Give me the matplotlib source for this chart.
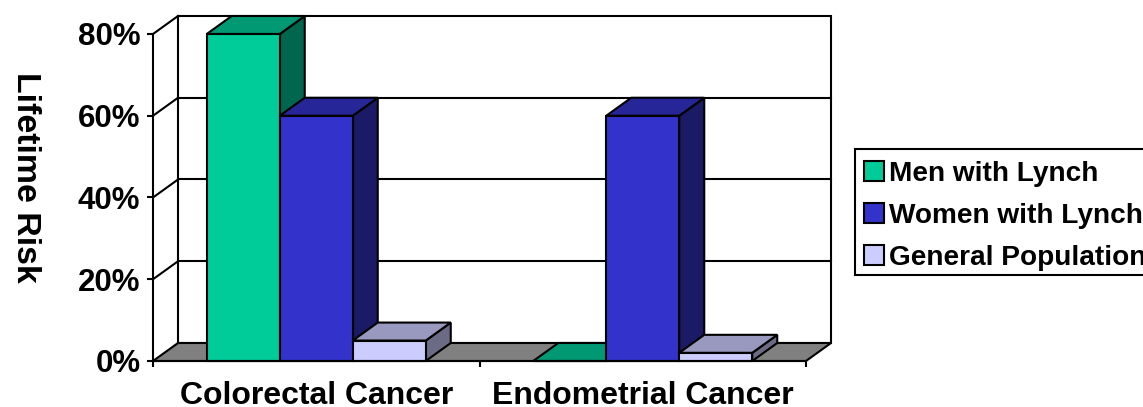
import matplotlib
matplotlib.use('Agg')
import matplotlib.pyplot as plt
from matplotlib.patches import Patch, Polygon, Rectangle

categories = ['Colorectal Cancer', 'Endometrial Cancer']
series_names = ['Men with Lynch', 'Women with Lynch', 'General Population']
men_with_lynch = [80, 0]
women_with_lynch = [60, 60]
general_population = [5, 2]
y_ticks = [0, 20, 40, 60, 80]
y_tick_labels = ['0%', '20%', '40%', '60%', '80%']

FRONT_COLOURS = ['#00CC99', '#3333CC', '#CCCCFF']
TOP_COLOURS = ['#009973', '#262699', '#9999BF']
SIDE_COLOURS = ['#00664D', '#1A1A66', '#6B6B85']
FLOOR_COLOUR = '#808080'
FONT = 'Liberation Sans'
LINE = 1.5

# 3d depth of the chart box, in data units
DX = 25 / 326.5
DY = 18 / 327 * 80
BAR_WIDTH = 73 / 326.5
GROUP_GAP = (1 - 3 * BAR_WIDTH) / 2


def Face(ax, points, colour, z):
    ax.add_patch(Polygon(points, closed=True, facecolor=colour, edgecolor='black',
                         linewidth=LINE, joinstyle='miter', clip_on=False, zorder=z))


def Box(ax, x, value, i, z):
    x2 = x + BAR_WIDTH
    Face(ax, [(x2, 0), (x2 + DX, DY), (x2 + DX, value + DY), (x2, value)], SIDE_COLOURS[i], z)
    Face(ax, [(x, value), (x + DX, value + DY), (x2 + DX, value + DY), (x2, value)], TOP_COLOURS[i], z)
    Face(ax, [(x, 0), (x2, 0), (x2, value), (x, value)], FRONT_COLOURS[i], z)


fig = plt.figure(figsize=(11.43, 4.07), dpi=100)
ax = fig.add_axes([153 / 1143, 46 / 407, 653 / 1143, 327 / 407])
ax.set_xlim(0, len(categories))
ax.set_ylim(0, 80)

for s in ('top', 'right'):
    ax.spines[s].set_visible(False)
for s in ('left', 'bottom'):
    ax.spines[s].set_linewidth(LINE)
    ax.spines[s].set_zorder(8)

# back wall and floor
n = len(categories)
Face(ax, [(DX, DY), (n + DX, DY), (n + DX, 80 + DY), (DX, 80 + DY)], 'white', 1)
for t in y_ticks[1:-1]:
    ax.plot([DX, n + DX], [t + DY, t + DY], color='black', lw=LINE, clip_on=False, zorder=2)
for t in y_ticks[1:]:
    ax.plot([0, DX], [t, t + DY], color='black', lw=LINE, clip_on=False, zorder=2)
Face(ax, [(0, 0), (DX, DY), (n + DX, DY), (n, 0)], FLOOR_COLOUR, 3)

z = 4
for c in range(n):
    for i, values in enumerate((men_with_lynch, women_with_lynch, general_population)):
        Box(ax, c + GROUP_GAP + i * BAR_WIDTH, values[c], i, z)
        z += 0.01

ax.set_yticks(y_ticks)
ax.set_yticklabels(y_tick_labels, fontfamily=FONT, fontweight='bold', fontsize=22.5)
ax.set_xticks(range(n + 1))
ax.set_xticklabels([])
ax.set_xticks([c + 0.5 for c in range(n)], minor=True)
ax.set_xticklabels(categories, minor=True, fontfamily=FONT, fontweight='bold', fontsize=23)
ax.tick_params(axis='both', which='major', length=4, width=LINE, pad=5)
ax.tick_params(axis='x', which='minor', length=0, pad=14.5)

fig.text(25 / 1143, 1 - 177 / 407, 'Lifetime Risk', rotation=-90, ha='center', va='center',
         fontfamily=FONT, fontweight='bold', fontsize=24.4)

# legend frame runs off the right edge, so it is drawn by hand
fig.add_artist(Rectangle((855 / 1143, 1 - 275 / 407), 320 / 1143, 126 / 407,
                         transform=fig.transFigure, facecolor='white', edgecolor='black',
                         linewidth=LINE, clip_on=True))
handles = [Patch(facecolor=FRONT_COLOURS[i], edgecolor='black', linewidth=LINE) for i in range(3)]
legend = fig.legend(handles, series_names, loc='upper left',
                    bbox_to_anchor=(864 / 1143, 1 - 161 / 407),
                    prop={'family': FONT, 'weight': 'bold', 'size': 20.2},
                    frameon=False, handlelength=0.7, handleheight=0.7, handletextpad=0.18,
                    labelspacing=0.565, borderpad=0, borderaxespad=0)

fig.savefig('out.png', dpi=100)
